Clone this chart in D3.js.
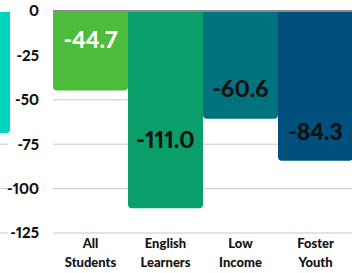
<!DOCTYPE html>
<html>
<head>
<meta charset="utf-8">
<script src="https://cdn.jsdelivr.net/npm/d3@7"></script>
<style>
  html, body { margin: 0; padding: 0; background: #fff; }
  svg { display: block; font-family: Lato, sans-serif; font-variant-numeric: proportional-nums; font-feature-settings: "pnum" 1; }
</style>
</head>
<body>
<div id="chart"></div>
<script>
// chart data
const categories = ['All Students', 'English Learners', 'Low Income', 'Foster Youth'];
const catLines = [['All', 'Students'], ['English', 'Learners'], ['Low', 'Income'], ['Foster', 'Youth']];
const values = [-44.7, -111.0, -60.6, -84.3];
const labelAt = [-16.3, -72.6, -43.6, -67.8]; // where the value text sits (data units)
const barColors = ['#4dbb3b', '#0a9e6b', '#00737f', '#004f7d'];
const labelColors = ['#ffffff', '#111111', '#111111', '#111111'];
const ticks = [0, -25, -50, -75, -100, -125];
// cut-off bar of the neighbouring panel on the left
const prevValue = -68.7;

function renderChart(containerId) {
  const width = 352, height = 273;
  const margin = { top: 11, right: -1, bottom: 40, left: 53 };

  const svg = d3.select('#' + containerId)
    .append('svg')
    .attr('width', width)
    .attr('height', height);

  const y = d3.scaleLinear()
    .domain([0, -125])
    .range([margin.top, height - margin.bottom]);

  const x = d3.scaleBand()
    .domain(categories)
    .range([margin.left, width - margin.right])
    .padding(0);

  // neighbour panel: its gridlines and bar end
  const px0 = -65, px1 = 10;
  svg.append('g').selectAll('line')
    .data(ticks.filter(t => t !== 0))
    .enter().append('line')
    .attr('x1', 0).attr('x2', 8)
    .attr('y1', d => y(d)).attr('y2', d => y(d))
    .attr('stroke', '#c8c8c8').attr('stroke-width', 1);

  const r = 4;
  const barPath = (x0, x1, v) => {
    const yt = y(0) + 1, yb = y(v);
    return `M${x0},${yt}H${x1}V${yb - r}Q${x1},${yb} ${x1 - r},${yb}H${x0 + r}Q${x0},${yb} ${x0},${yb - r}Z`;
  };
  svg.append('path')
    .attr('d', barPath(px0, px1, prevValue))
    .attr('fill', '#00d3be');

  // gridlines
  svg.append('g').selectAll('line')
    .data(ticks.filter(t => t !== 0))
    .enter().append('line')
    .attr('x1', margin.left).attr('x2', width)
    .attr('y1', d => y(d)).attr('y2', d => y(d))
    .attr('stroke', '#c8c8c8').attr('stroke-width', 1);

  // y tick labels
  svg.append('g').selectAll('text')
    .data(ticks)
    .enter().append('text')
    .attr('x', 39)
    .attr('y', d => y(d))
    .attr('dy', '0.36em')
    .attr('text-anchor', 'end')
    .style('font-size', '15px')
    .style('font-weight', 900)
    .attr('fill', '#111')
    .text(d => d === 0 ? '0' : '-' + Math.abs(d));

  // bars
  svg.append('g').selectAll('path')
    .data(values)
    .enter().append('path')
    .attr('d', (d, i) => barPath(x(categories[i]), x(categories[i]) + x.bandwidth(), d))
    .attr('fill', (d, i) => barColors[i]);

  // zero line
  svg.append('line')
    .attr('x1', margin.left).attr('x2', width)
    .attr('y1', y(0)).attr('y2', y(0))
    .attr('stroke', '#666').attr('stroke-width', 1.5);

  // value labels
  svg.append('g').selectAll('text')
    .data(values)
    .enter().append('text')
    .attr('x', (d, i) => x(categories[i]) + x.bandwidth() / 2)
    .attr('y', (d, i) => y(labelAt[i]))
    .attr('dy', '0.36em')
    .attr('text-anchor', 'middle')
    .style('font-size', '23px')
    .style('font-weight', 900)
    .attr('fill', (d, i) => labelColors[i])
    .text(d => d.toFixed(1));

  // category labels
  const cat = svg.append('g').selectAll('text')
    .data(categories)
    .enter().append('text')
    .attr('x', d => x(d) + x.bandwidth() / 2)
    .attr('y', 248)
    .attr('text-anchor', 'middle')
    .style('font-size', '13px')
    .style('font-weight', 900)
    .attr('fill', '#111');
  cat.selectAll('tspan')
    .data((d, i) => catLines[i])
    .enter().append('tspan')
    .attr('x', function () { return this.parentNode.getAttribute('x'); })
    .attr('dy', (d, i) => i === 0 ? 0 : 19)
    .text(d => d);
}

renderChart('chart');
</script>
</body>
</html>
